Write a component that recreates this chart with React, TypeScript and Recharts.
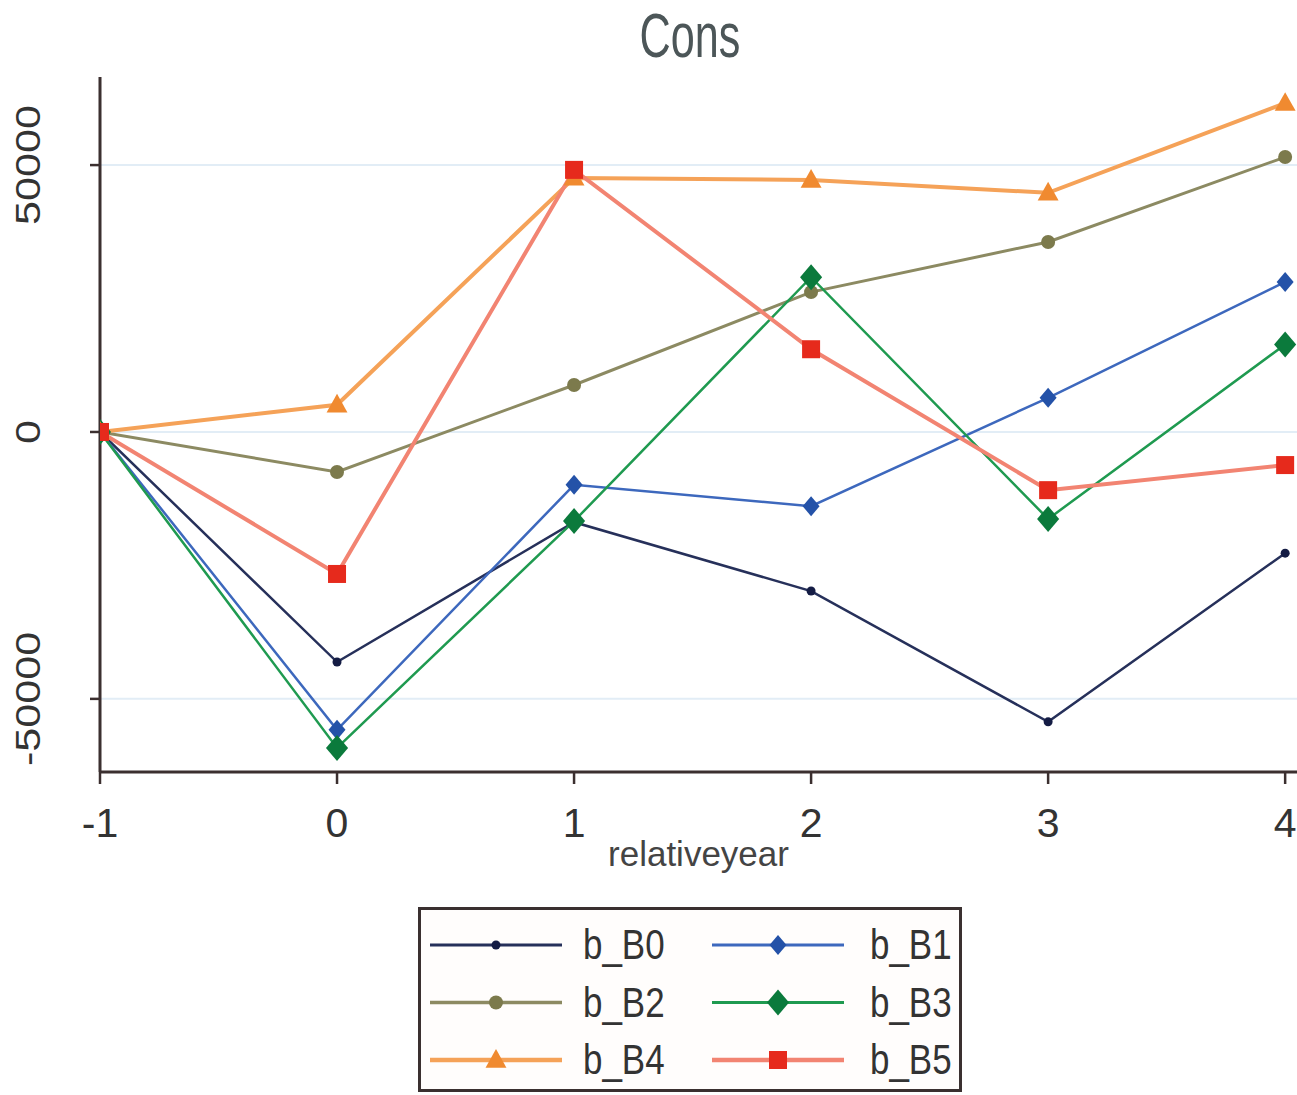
import React from 'react';
import { LineChart, Line, XAxis, YAxis, CartesianGrid } from 'recharts';

// relative years on the x axis
const years = [-1, 0, 1, 2, 3, 4];

// coefficient estimates per series
const bB0 = [0, -43100, -16900, -29800, -54300, -22700];
const bB1 = [0, -55800, -9900, -13900, 6400, 28100];
const bB2 = [0, -7500, 8800, 26200, 35600, 51500];
const bB3 = [0, -59200, -16700, 29000, -16300, 16400];
const bB4 = [0, 5100, 47600, 47200, 44800, 61600];
const bB5 = [0, -26600, 49100, 15500, -10900, -6200];

const yTicks = [-50000, 0, 50000];

type Shape = 'circle' | 'diamond' | 'triangle' | 'square';

const series = [
  { key: 'b_B0', values: bB0, stroke: '#26305a', width: 2.5, fill: '#141c44', shape: 'circle' as Shape, size: 4.5 },
  { key: 'b_B1', values: bB1, stroke: '#3d68bd', width: 2.5, fill: '#2452a8', shape: 'diamond' as Shape, size: 10 },
  { key: 'b_B2', values: bB2, stroke: '#8c8a62', width: 3, fill: '#7c7a4c', shape: 'circle' as Shape, size: 7 },
  { key: 'b_B3', values: bB3, stroke: '#1f9a50', width: 2.5, fill: '#0b7a3c', shape: 'diamond' as Shape, size: 13 },
  { key: 'b_B4', values: bB4, stroke: '#f5a258', width: 4, fill: '#f08a30', shape: 'triangle' as Shape, size: 11 },
  { key: 'b_B5', values: bB5, stroke: '#f28472', width: 4, fill: '#e62a1c', shape: 'square' as Shape, size: 9 },
];

const data = years.map((year, i) => {
  const row: Record<string, number> = { year };
  series.forEach((s) => {
    row[s.key] = s.values[i];
  });
  return row;
});

function marker(shape: Shape, cx: number, cy: number, s: number, fill: string, key?: any) {
  if (shape === 'circle') return <circle key={key} cx={cx} cy={cy} r={s} fill={fill} />;
  if (shape === 'diamond')
    return <path key={key} d={`M${cx},${cy - s}L${cx + s * 0.85},${cy}L${cx},${cy + s}L${cx - s * 0.85},${cy}Z`} fill={fill} />;
  if (shape === 'triangle')
    return <path key={key} d={`M${cx},${cy - s}L${cx + s * 0.95},${cy + s * 0.7}L${cx - s * 0.95},${cy + s * 0.7}Z`} fill={fill} />;
  return <rect key={key} x={cx - s} y={cy - s} width={s * 2} height={s * 2} fill={fill} />;
}

const YTick = (props: any) => {
  const { x, y, payload } = props;
  return (
    <text
      transform={`translate(${x - 50},${y}) rotate(-90) scale(1.2,1)`}
      textAnchor="middle"
      fontSize={36}
      fill="#333"
    >
      {payload.value}
    </text>
  );
};

export default function App() {
  return (
    <div
      style={{
        position: 'absolute',
        left: 0,
        top: 0,
        width: 1297,
        height: 1095,
        background: '#fff',
        overflow: 'hidden',
        fontFamily: '"Liberation Sans", Arial, sans-serif',
      }}
    >
      <svg width={1297} height={80} style={{ position: 'absolute', left: 0, top: 0 }}>
        <text transform="translate(690,57) scale(0.9,1.3)" textAnchor="middle" fontSize={48} fill="#4c5658">
          Cons
        </text>
      </svg>

      <LineChart
        width={1297}
        height={1095}
        data={data}
        margin={{ top: 77, right: 0, bottom: 223, left: 0 }}
        style={{ position: 'absolute', left: 0, top: 0 }}
      >
        <CartesianGrid vertical={false} horizontalValues={yTicks} stroke="#e2edf6" strokeWidth={2} />
        <XAxis
          dataKey="year"
          type="number"
          domain={[-1, 4.05]}
          ticks={years}
          allowDataOverflow
          height={100}
          tickSize={12}
          tickMargin={24}
          axisLine={{ stroke: '#3b2f2f', strokeWidth: 3 }}
          tickLine={{ stroke: '#3b2f2f', strokeWidth: 2.5 }}
          tick={{ fontSize: 41, fill: '#333' }}
          label={{ value: 'relativeyear', position: 'insideBottom', offset: 6, fontSize: 35, fill: '#444' }}
        />
        <YAxis
          type="number"
          domain={[-63700, 66500]}
          ticks={yTicks}
          allowDataOverflow
          width={100}
          tickSize={10}
          tickMargin={0}
          axisLine={{ stroke: '#3b2f2f', strokeWidth: 3 }}
          tickLine={{ stroke: '#3b2f2f', strokeWidth: 2.5 }}
          tick={<YTick />}
        />
        {series.map((s) => (
          <Line
            key={s.key}
            type="linear"
            dataKey={s.key}
            stroke={s.stroke}
            strokeWidth={s.width}
            isAnimationActive={false}
            dot={(p: any) => marker(s.shape, p.cx, p.cy, s.size, s.fill, `${s.key}-${p.index}`)}
            activeDot={false}
          />
        ))}
      </LineChart>

      {/* legend */}
      <div
        style={{
          position: 'absolute',
          left: 418,
          top: 907,
          width: 544,
          height: 185,
          boxSizing: 'border-box',
          border: '3px solid #3a3030',
          background: '#fffdfc',
        }}
      >
        <svg width={538} height={179} style={{ position: 'absolute', left: 0, top: 0 }}>
          {series.map((s, i) => {
            const col = i % 2;
            const row = Math.floor(i / 2);
            const x0 = col === 0 ? 9 : 291;
            const x1 = x0 + 132;
            const cy = 35 + row * 57.5;
            const tx = col === 0 ? 162 : 449;
            return (
              <g key={s.key}>
                <line x1={x0} x2={x1} y1={cy} y2={cy} stroke={s.stroke} strokeWidth={s.width + 0.5} />
                {marker(s.shape, (x0 + x1) / 2, cy, s.size, s.fill)}
                <text transform={`translate(${tx},${cy + 14}) scale(0.92,1.1)`} fontSize={38} fill="#333">
                  {s.key}
                </text>
              </g>
            );
          })}
        </svg>
      </div>
    </div>
  );
}
